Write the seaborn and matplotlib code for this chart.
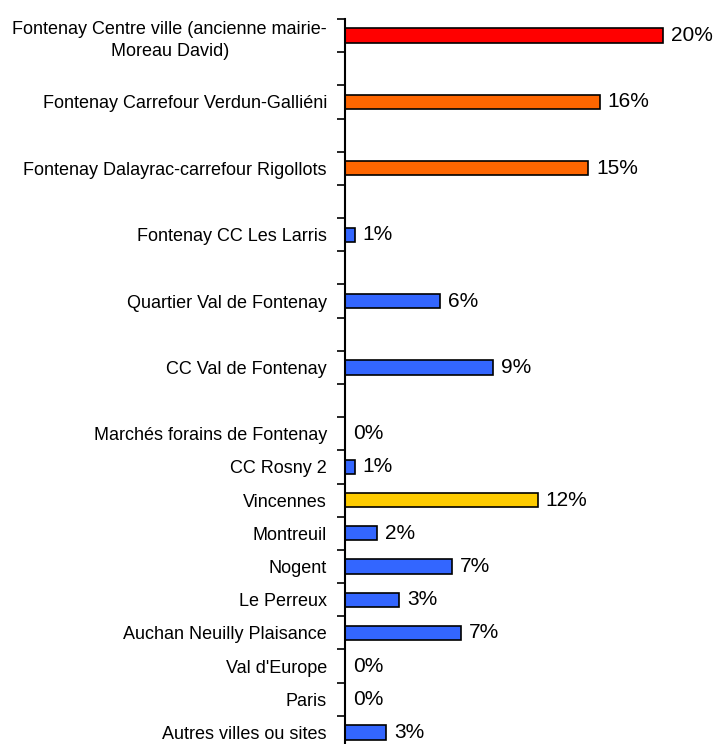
import pandas as pd
import numpy as np
import matplotlib.pyplot as plt
import seaborn as sns

sns.set_theme(style="white")
plt.rcParams['font.family'] = ['Liberation Sans', 'DejaVu Sans']
plt.rcParams['text.color'] = 'black'
plt.rcParams['ytick.color'] = 'black'
plt.rcParams['ytick.labelcolor'] = 'black'

# Data
lieux = [
    "Fontenay Centre ville (ancienne mairie-\nMoreau David)",
    "Fontenay Carrefour Verdun-Galliéni",
    "Fontenay Dalayrac-carrefour Rigollots",
    "Fontenay CC Les Larris",
    "Quartier Val de Fontenay",
    "CC Val de Fontenay",
    "Marchés forains de Fontenay",
    "CC Rosny 2",
    "Vincennes",
    "Montreuil",
    "Nogent",
    "Le Perreux",
    "Auchan Neuilly Plaisance",
    "Val d'Europe",
    "Paris",
    "Autres villes ou sites",
]
parts = [20.0, 16.0, 15.3, 0.6, 6.0, 9.3, 0.0, 0.6, 12.1, 2.0, 6.7, 3.4, 7.3, 0.0, 0.0, 2.6]
couleurs = ["#FF0000", "#FF6600", "#FF6600", "#3366FF", "#3366FF", "#3366FF",
            "#3366FF", "#3366FF", "#FFCC00", "#3366FF", "#3366FF", "#3366FF",
            "#3366FF", "#3366FF", "#3366FF", "#3366FF"]

# first six rows take two slots each, the rest one slot
pas = [2] * 6 + [1] * 10
pos = np.concatenate([[0], np.cumsum(pas)[:-1]])
n_slots = pos[-1] + 1

df = pd.DataFrame({"lieu": lieux, "part": parts, "pos": pos})

fig = plt.figure(figsize=(7.16, 7.44), dpi=100)
ax = fig.add_axes([345 / 716, -5 / 744, 366 / 716, 730 / 744])

sns.barplot(data=df, x="part", y="pos", hue="lieu", orient="h", native_scale=True,
            palette=dict(zip(lieux, couleurs)), saturation=1, width=0.43,
            edgecolor="black", linewidth=1.2, legend=False, ax=ax, dodge=False)

for p, v in zip(pos, parts):
    ax.text(v + 0.5, p, f"{round(v)}%", va="center", ha="left", fontsize=15,
            color="black")

ax.set_xlim(0, 23)
ax.set_ylim(n_slots - 0.5, -0.5)
ax.set_yticks(pos)
ax.set_yticklabels(lieux, fontsize=13, multialignment="center", linespacing=1.45,
                   color="black")
ax.set_yticks(np.arange(-0.5, n_slots, 1), minor=True)
ax.tick_params(axis="y", which="major", length=0, pad=13)
ax.tick_params(axis="y", which="minor", length=6, width=1.2, direction="out",
               left=True, color="black")
ax.set_xticks([])
ax.set_xlabel("")
ax.set_ylabel("")
for s in ["top", "right", "bottom"]:
    ax.spines[s].set_visible(False)
ax.spines["left"].set_linewidth(1.5)
ax.spines["left"].set_color("black")

fig.savefig("out.png", dpi=100)
